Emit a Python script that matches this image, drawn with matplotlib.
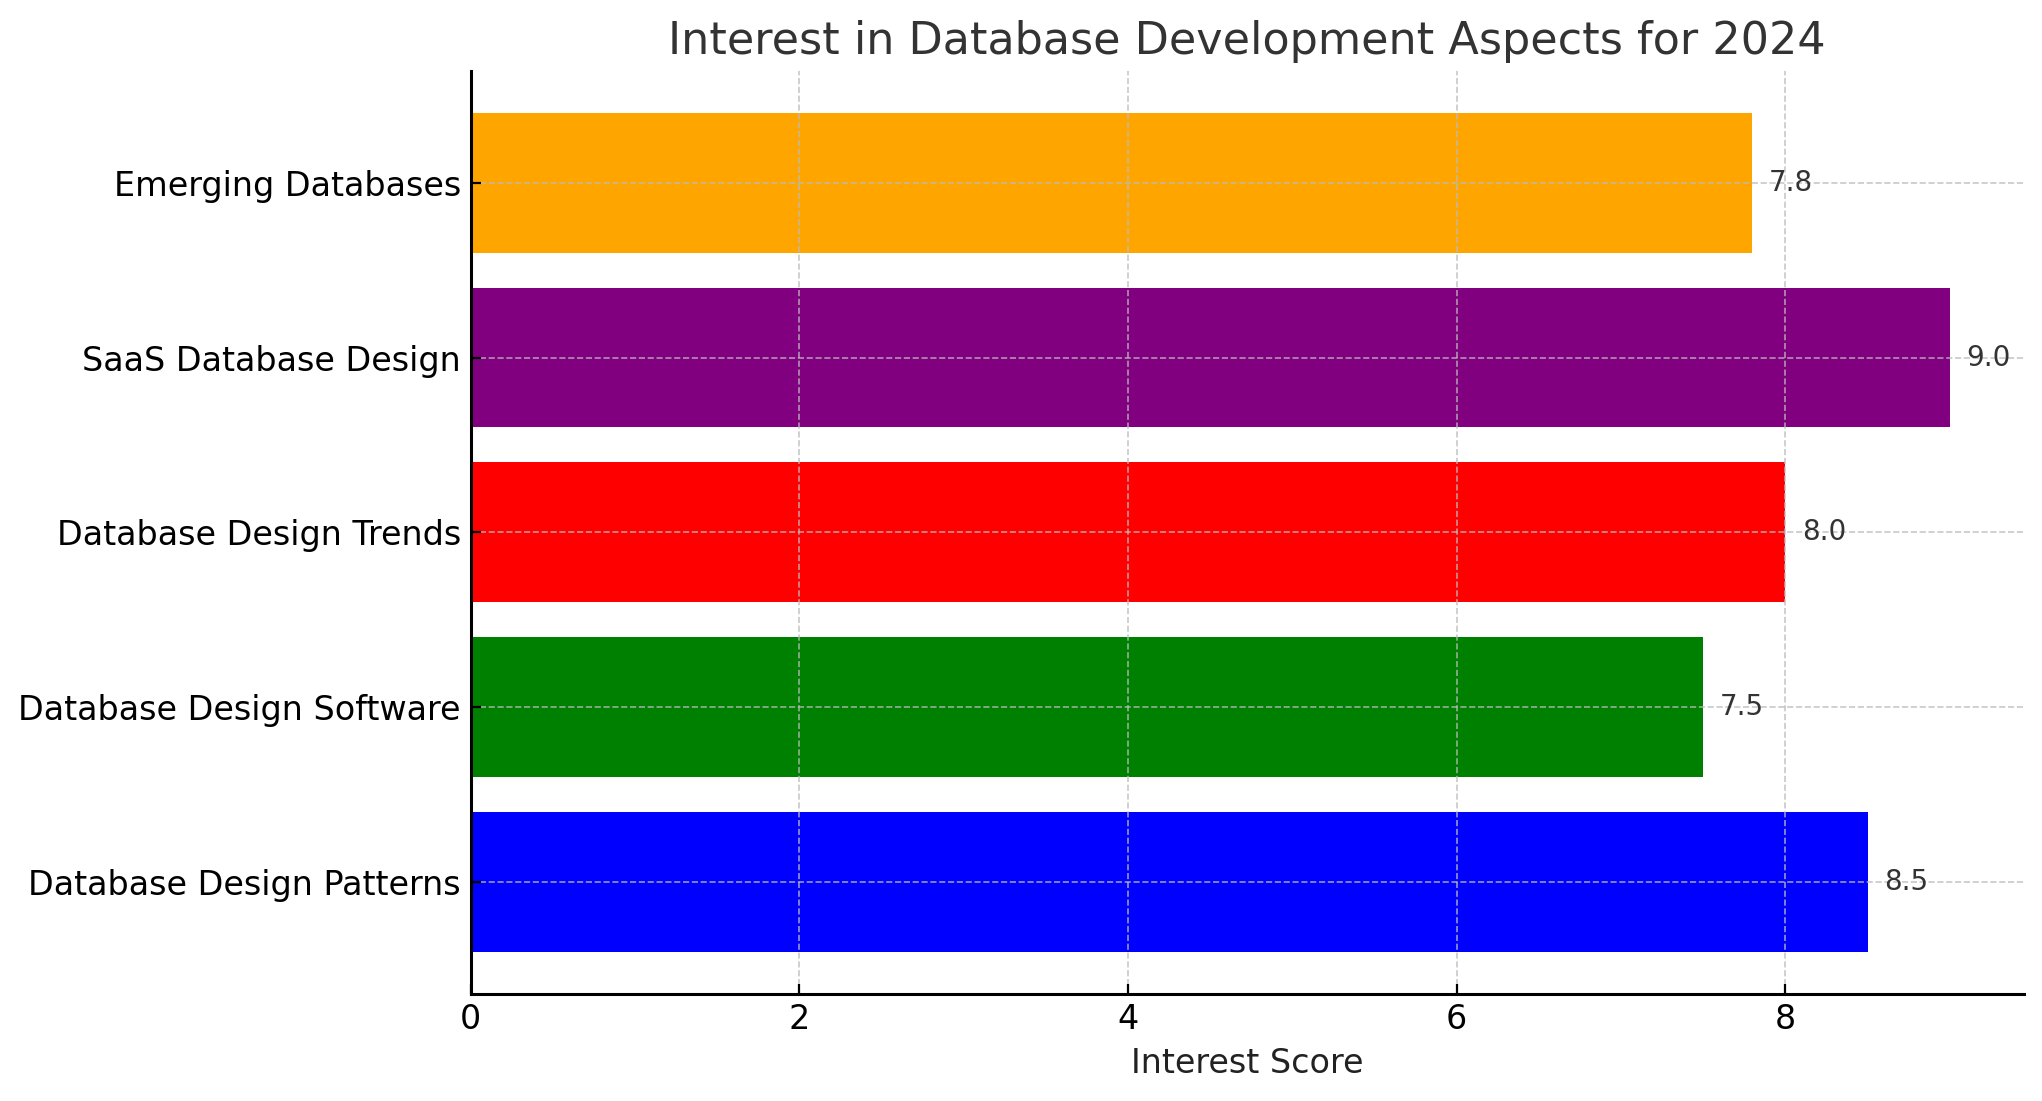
import matplotlib.pyplot as plt

categories = ['Database Design Patterns', 'Database Design Software', 'Database Design Trends',
              'SaaS Database Design', 'Emerging Databases']
scores = [8.5, 7.5, 8.0, 9.0, 7.8]
colors = ['blue', 'green', 'red', 'purple', 'orange']

fig, ax = plt.subplots(figsize=(10.21, 5.505), dpi=200)
fig.subplots_adjust(left=0.2305, right=0.991, bottom=0.0975, top=0.9355)

bars = ax.barh(categories, scores, color=colors, height=0.8)
for b, v in zip(bars, scores):
    ax.text(b.get_width() + 0.1, b.get_y() + b.get_height() / 2, f'{v:.1f}',
            va='center', ha='left', fontsize=10, color='#333333')

ax.set_title('Interest in Database Development Aspects for 2024', fontsize=16, color='#333333')
ax.set_xlabel('Interest Score', fontsize=12, color='#222222')
ax.tick_params(axis='both', labelsize=12, direction='in')
ax.grid(True, linestyle='--', color='#bbbbbb', linewidth=0.6, alpha=0.8)
ax.spines['top'].set_visible(False)
ax.spines['right'].set_visible(False)
for s in ('left', 'bottom'):
    ax.spines[s].set_linewidth(1.1)

plt.savefig('out.png', dpi=200)
